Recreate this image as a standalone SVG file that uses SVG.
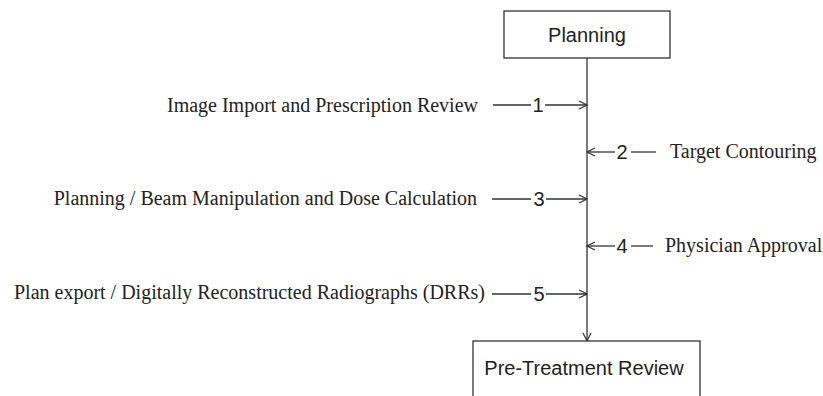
<svg xmlns="http://www.w3.org/2000/svg" width="823" height="396" viewBox="0 0 823 396">
<style>
.box{fill:#fff;stroke:#333;stroke-width:1.3}
.ln{stroke:#333;stroke-width:1.3;fill:none}
.arr{marker-end:url(#ah)}
.sans{font-family:"Liberation Sans",Arial,sans-serif;fill:#222}
.ser{font-family:"Liberation Serif","Times New Roman",serif;font-size:20px;fill:#222}
.num{font-family:"Liberation Sans",Arial,sans-serif;font-size:20px;fill:#222;text-anchor:middle}
</style>
<defs>
<marker id="ah" markerWidth="10" markerHeight="10" refX="9" refY="5" orient="auto" markerUnits="userSpaceOnUse">
<path d="M1,1 L9,5 L1,9" fill="none" stroke="#333" stroke-width="1.2"/>
</marker>
</defs>
<g id="connectors">
<line class="ln arr" x1="587" y1="58" x2="587" y2="341"/>
<line class="ln" x1="493" y1="105" x2="531" y2="105"/>
<line class="ln arr" x1="545" y1="105" x2="587" y2="105"/>
<text class="num" x="538" y="112">1</text>
<line class="ln" x1="656" y1="152" x2="631" y2="152"/>
<line class="ln arr" x1="615" y1="152" x2="587" y2="152"/>
<text class="num" x="622" y="159">2</text>
<line class="ln" x1="492" y1="199" x2="531" y2="199"/>
<line class="ln arr" x1="546" y1="199" x2="587" y2="199"/>
<text class="num" x="539" y="206">3</text>
<line class="ln" x1="653" y1="246" x2="631" y2="246"/>
<line class="ln arr" x1="615" y1="246" x2="587" y2="246"/>
<text class="num" x="622" y="253">4</text>
<line class="ln" x1="492" y1="294" x2="531" y2="294"/>
<line class="ln arr" x1="546" y1="294" x2="587" y2="294"/>
<text class="num" x="539" y="301">5</text>
</g>
<g id="planning">
<rect class="box" x="504" y="11" width="166" height="47"/>
<text class="sans" x="587" y="42" font-size="20" text-anchor="middle">Planning</text>
</g>
<g id="pretreatment">
<rect class="box" x="473" y="341" width="227" height="70"/>
<text class="sans" x="584" y="375" font-size="20" text-anchor="middle">Pre-Treatment Review</text>
</g>
<g id="label1"><text class="ser" x="478" y="112" text-anchor="end">Image Import and Prescription Review</text></g>
<g id="label2"><text class="ser" x="670" y="158">Target Contouring</text></g>
<g id="label3"><text class="ser" x="477" y="205" text-anchor="end">Planning / Beam Manipulation and Dose Calculation</text></g>
<g id="label4"><text class="ser" x="665" y="252">Physician Approval</text></g>
<g id="label5"><text class="ser" x="485" y="299" text-anchor="end">Plan export / Digitally Reconstructed Radiographs (DRRs)</text></g>
</svg>
